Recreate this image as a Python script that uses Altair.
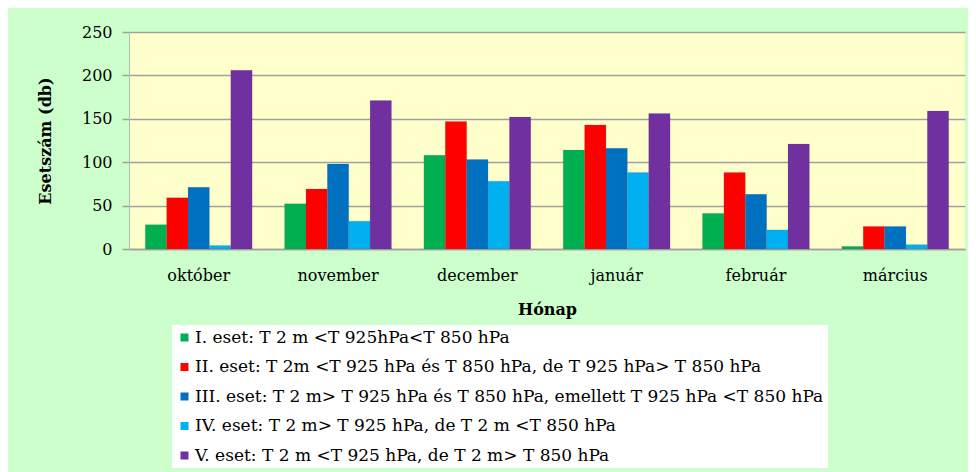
import altair as alt
import pandas as pd

months = ["október", "november", "december", "január", "február", "március"]
series = [
    "I. eset: T 2 m <T 925hPa<T 850 hPa",
    "II. eset: T 2m <T 925 hPa és T 850 hPa, de T 925 hPa> T 850 hPa",
    "III. eset: T 2 m> T 925 hPa és T 850 hPa, emellett T 925 hPa <T 850 hPa",
    "IV. eset: T 2 m> T 925 hPa, de T 2 m <T 850 hPa",
    "V. eset: T 2 m <T 925 hPa, de T 2 m> T 850 hPa",
]
colors = ["#00B050", "#FF0000", "#0070C0", "#00B0F0", "#7030A0"]

case1 = [28, 52, 108, 114, 41, 3]
case2 = [59, 69, 147, 143, 88, 26]
case3 = [71, 98, 103, 116, 63, 26]
case4 = [4, 32, 78, 88, 22, 5]
case5 = [206, 171, 152, 156, 121, 159]
values = [case1, case2, case3, case4, case5]

rows = []
for s, vals in zip(series, values):
    for m, v in zip(months, vals):
        rows.append({"Hónap": m, "eset": s, "db": v})
df = pd.DataFrame(rows)

serif = "DejaVu Serif"

chart = alt.Chart(df).mark_bar(stroke="#555555", strokeWidth=0.3, strokeOpacity=0.5).encode(
    x=alt.X("Hónap:N", sort=months, title="Hónap",
            scale=alt.Scale(paddingInner=0.233, paddingOuter=0.117),
            axis=alt.Axis(labelAngle=0, ticks=False, domain=True, domainColor="#A0A0A0",
                          domainWidth=1.5, labelPadding=18, titlePadding=18)),
    xOffset=alt.XOffset("eset:N", sort=series, scale=alt.Scale(paddingInner=0, paddingOuter=0)),
    y=alt.Y("db:Q", title="Esetszám (db)",
            scale=alt.Scale(domain=[0, 250], nice=False),
            axis=alt.Axis(values=[0, 50, 100, 150, 200, 250], tickSize=7, tickColor="#A0A0A0",
                          tickWidth=1.5, labelPadding=10, gridColor="#A0A0A0", gridWidth=1.5,
                          domain=True, domainColor="#B8B8B8", domainWidth=1, titlePadding=28)),
    color=alt.Color("eset:N", sort=series,
                    scale=alt.Scale(domain=series, range=colors),
                    legend=alt.Legend(title=None, orient="none", legendX=43, legendY=293,
                                      symbolType="square", symbolSize=64, symbolStrokeWidth=0,
                                      labelFont=serif, labelFontSize=17, labelColor="#000000",
                                      labelLimit=1000, rowPadding=11.5, fillColor="#FFFFFF",
                                      padding=4, symbolOffset=0, labelOffset=2)),
).properties(
    width=836,
    height=217,
    background="#CCFFCC",
    padding={"left": 121, "top": 24, "right": 3, "bottom": 223},
    autosize=alt.AutoSizeParams(type="none"),
).configure_view(
    fill="#FFFFCC", stroke=None
).configure_axis(
    labelFont=serif, labelFontSize=16, labelColor="#000000",
    titleFont=serif, titleFontSize=16, titleFontWeight="bold", titleColor="#000000",
)

chart.save("out.html", embed_options={"renderer": "svg", "actions": False})
